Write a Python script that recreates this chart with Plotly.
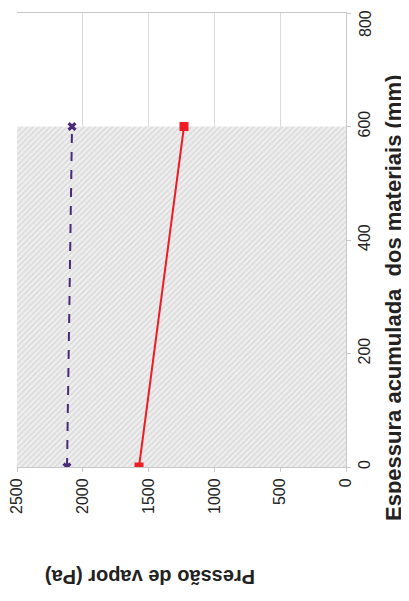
import plotly.graph_objects as go

# Data
thickness = [0, 600]                 # mm (accumulated thickness)
p_saturation = [2120, 2082]          # Pa, dashed purple series
p_vapour = [1573, 1231]              # Pa, solid red series
layer_start, layer_end = 0, 600      # hatched material layer (mm)
p_ticks = [0, 500, 1000, 1500, 2000, 2500]
t_ticks = [0, 200, 400, 600, 800]
t_labels = ["0", "200", "400", "600", "800"]
p_max = 2500
t_max = 800

FONT = "Liberation Sans, Arial, sans-serif"

fig = go.Figure()

# hatched material layer
fig.add_trace(go.Scatter(
    x=[p_max, 0, 0, p_max, p_max],
    y=[layer_start, layer_start, layer_end, layer_end, layer_start],
    mode="lines", fill="toself", line=dict(width=0),
    fillcolor="#e6e6e6",
    fillpattern=dict(shape="/", fgcolor="#c6c6c6", bgcolor="#efefef", size=4, solidity=0.4),
    hoverinfo="skip", showlegend=False,
))

fig.add_trace(go.Scatter(
    x=p_saturation, y=thickness, mode="lines+markers",
    line=dict(color="#4a2a78", width=2, dash="dash"),
    marker=dict(symbol="x", size=8, color="#4a2a78"),
    showlegend=False,
))

fig.add_trace(go.Scatter(
    x=p_vapour, y=thickness, mode="lines+markers",
    line=dict(color="#ee1c25", width=2),
    marker=dict(symbol="square", size=9, color="#ee1c25"),
    showlegend=False,
))

# the top tick label is drawn as an annotation nudged down so it stays inside the page
annotations = [
    dict(text=t_labels[-1], x=1, xref="paper", y=t_ticks[-1], yref="y",
         xshift=19, yshift=-11, textangle=-90, showarrow=False,
         font=dict(size=16, color="#222", family=FONT),
         xanchor="center", yanchor="middle"),
    dict(text="<b>Espessura acumulada  dos materiais (mm)</b>",
         xref="paper", yref="paper", x=(393 - 17) / 329, y=(467 - 298) / 454,
         textangle=-90, showarrow=False, font=dict(size=22, color="#222", family=FONT),
         xanchor="center", yanchor="middle"),
    dict(text="<b>Pressão de vapor (Pa)</b>",
         xref="paper", yref="paper", x=(150 - 17) / 329, y=(467 - 577) / 454,
         textangle=180, showarrow=False, font=dict(size=20, color="#222", family=FONT),
         xanchor="center", yanchor="middle"),
]

# page body adds an 8px margin, so the figure is offset to compensate
fig.update_layout(
    width=401, height=593,
    margin=dict(l=9, r=63, t=5, b=134),
    plot_bgcolor="white", paper_bgcolor="white",
    font=dict(family=FONT, size=16, color="#222"),
    xaxis=dict(
        range=[p_max, 0], tickvals=p_ticks, tickangle=-90, automargin=False,
        ticklabeloverflow="allow",
        showgrid=True, gridcolor="#d9d9d9", gridwidth=1,
        showline=True, linecolor="#c8c8c8", mirror=True,
        ticks="outside", ticklen=4, tickcolor="#c8c8c8",
        zeroline=False, tickfont=dict(size=16, color="#222"),
    ),
    yaxis=dict(
        range=[0, t_max], tickvals=t_ticks, ticktext=t_labels[:-1] + [""],
        side="right", tickangle=-90, automargin=False,
        ticklabeloverflow="allow",
        showgrid=False, showline=True, linecolor="#c8c8c8",
        ticks="outside", ticklen=4, tickcolor="#c8c8c8",
        zeroline=False, tickfont=dict(size=16, color="#222"),
    ),
    annotations=annotations,
)

fig.write_html("out.html")
